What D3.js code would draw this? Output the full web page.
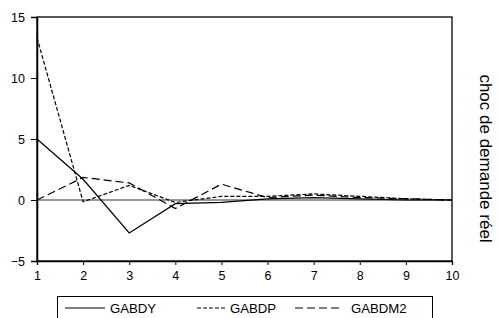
<!DOCTYPE html>
<html>
<head>
<meta charset="utf-8">
<script src="https://cdn.jsdelivr.net/npm/d3@7"></script>
<style>
  body { margin: 0; background: #fff; }
  svg { display: block; font-family: "Liberation Sans", Arial, sans-serif; }
</style>
</head>
<body>
<svg id="chart" width="500" height="318"></svg>
<script>
// periods and responses
const periods = [1, 2, 3, 4, 5, 6, 7, 8, 9, 10];
const gabdy = [5.0, 1.7, -2.7, -0.3, -0.2, 0.1, 0.2, 0.1, 0.0, 0.0];
const gabdp = [13.3, -0.15, 1.2, -0.2, 0.3, 0.3, 0.5, 0.3, 0.1, 0.0];
const gabdm2 = [0.0, 1.85, 1.4, -0.7, 1.3, 0.2, 0.4, 0.2, 0.1, 0.0];
const yTicks = [-5, 0, 5, 10, 15];
const seriesNames = ["GABDY", "GABDP", "GABDM2"];
const rightTitle = "choc de demande réel";

const svg = d3.select("#chart");
const plot = { left: 37, right: 452, top: 17, bottom: 261 };

const x = d3.scaleLinear().domain([1, 10]).range([plot.left, plot.right]);
const y = d3.scaleLinear().domain([-5, 15]).range([plot.bottom, plot.top]);

// zero line
svg.append("line")
  .attr("x1", plot.left).attr("x2", plot.right)
  .attr("y1", y(0)).attr("y2", y(0))
  .attr("stroke", "#333").attr("stroke-width", 1);

// frame
svg.append("rect")
  .attr("x", plot.left).attr("y", plot.top)
  .attr("width", plot.right - plot.left).attr("height", plot.bottom - plot.top)
  .attr("fill", "none").attr("stroke", "#000").attr("stroke-width", 1.3);

// axes
const yAxis = svg.append("g")
  .attr("transform", `translate(${plot.left},0)`)
  .call(d3.axisLeft(y).tickValues(yTicks).tickSize(6).tickPadding(6));
const xAxis = svg.append("g")
  .attr("transform", `translate(0,${plot.bottom})`)
  .call(d3.axisBottom(x).tickValues(periods).tickSize(4).tickPadding(6));

[yAxis, xAxis].forEach((g) => {
  g.select(".domain").attr("stroke", "#000").attr("stroke-width", 1.6);
  g.selectAll(".tick line").attr("stroke", "#000").attr("stroke-width", 1);
  g.selectAll(".tick text")
    .attr("font-family", "Liberation Sans, Arial, sans-serif")
    .attr("font-size", 12.5).attr("fill", "#000");
});
xAxis.select(".domain").attr("stroke-width", 1.3);

const series = [
  { name: seriesNames[0], values: gabdy, dash: null },
  { name: seriesNames[1], values: gabdp, dash: "4,2" },
  { name: seriesNames[2], values: gabdm2, dash: "8,4" }
];

const line = d3.line()
  .x((d, i) => x(periods[i]))
  .y((d) => y(d));

svg.selectAll(".series")
  .data(series)
  .enter()
  .append("path")
  .attr("class", "series")
  .attr("d", (d) => line(d.values))
  .attr("fill", "none")
  .attr("stroke", "#000")
  .attr("stroke-width", 1.2)
  .attr("stroke-dasharray", (d) => d.dash);

// right-hand title, reads top to bottom
svg.append("text")
  .attr("transform", "translate(480,158.5) rotate(90)")
  .attr("text-anchor", "middle")
  .attr("font-size", 17)
  .attr("fill", "#000")
  .text(rightTitle);

// legend
const legend = svg.append("g");
legend.append("rect")
  .attr("x", 57.5).attr("y", 296.5)
  .attr("width", 375).attr("height", 23)
  .attr("fill", "none").attr("stroke", "#000").attr("stroke-width", 1);

const legendPos = [
  { x1: 65, x2: 105, tx: 110 },
  { x1: 197, x2: 226, tx: 230 },
  { x1: 295, x2: 343, tx: 351 }
];

const items = legend.selectAll(".item")
  .data(series)
  .enter()
  .append("g")
  .attr("class", "item");

items.append("line")
  .attr("x1", (d, i) => legendPos[i].x1)
  .attr("x2", (d, i) => legendPos[i].x2)
  .attr("y1", 308).attr("y2", 308)
  .attr("stroke", "#000").attr("stroke-width", 1.1)
  .attr("stroke-dasharray", (d) => d.dash);

items.append("text")
  .attr("x", (d, i) => legendPos[i].tx)
  .attr("y", 313)
  .attr("font-size", 13.2)
  .attr("fill", "#000")
  .text((d) => d.name);
</script>
</body>
</html>
